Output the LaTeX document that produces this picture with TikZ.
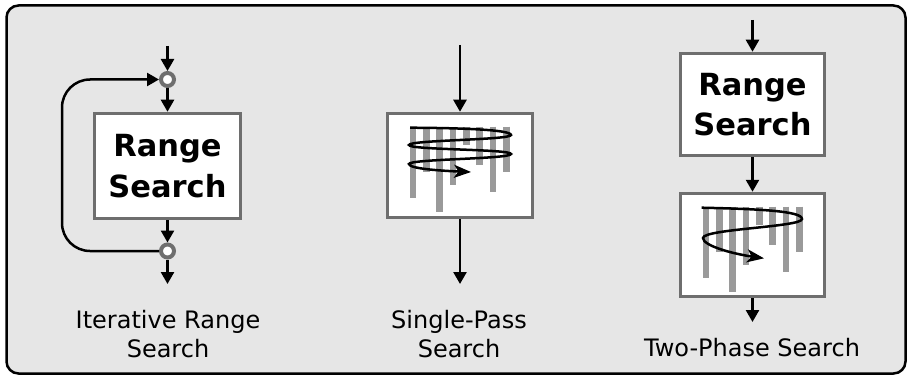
\documentclass[tikz,border=0pt]{standalone}
\usepackage{fontspec}
\setmainfont{DejaVu Sans}
\usetikzlibrary{arrows.meta}
\definecolor{bg}{HTML}{E6E6E6}
\definecolor{boxgray}{HTML}{6E6E6E}
\definecolor{bargray}{HTML}{9A9A9A}
\newcommand\mybars{\foreach \i/\l in {0/71.6,1/45,2/85,3/58.3,4/18.3,5/38.3,6/65,7/45} \draw[bar] ({27+13.33*\i},14.7) -- ++(0,\l);}
\begin{document}
\begin{tikzpicture}[x=1pt,y=-1pt,
  flow/.style={line width=2.5pt,-{Triangle[length=12pt,width=13pt]}},
  loopline/.style={line width=2.5pt,-{Triangle[length=12pt,width=13pt]},rounded corners=28pt},
  stagebox/.style={draw=boxgray,line width=3.5pt,fill=white,inner sep=0pt,align=center,font=\fontsize{30.5}{40.5}\selectfont\bfseries},
  junction/.style={circle,draw=boxgray,line width=4pt,fill=white,minimum size=13pt,inner sep=0pt},
  bar/.style={draw=bargray,line width=6.5pt},
  spiral/.style={line width=2.5pt,-{Stealth[length=17pt,width=13pt,inset=4.5pt]}},
  caption/.style={align=center,inner sep=0pt,font=\fontsize{24}{28.5}\selectfont}
]
\useasboundingbox (0,0) rectangle (909,377);
\draw[line width=2.5pt, fill=bg, rounded corners=12pt] (6.5,5.5) rectangle (905.5,373.5);

% Left: iterative range search
\node[stagebox, minimum width=146pt, minimum height=105pt] (lbox) at (167.5,166) {Range\\Search};
\node[junction] (c1) at (167.5,79.5) {};
\node[junction] (c2) at (167.5,251) {};
\coordinate (lin) at (167.5,46);
\coordinate (lout) at (167.5,284);
\draw[flow] (lin) -- (c1);
\draw[flow] (c1) -- (lbox);
\draw[flow] (lbox) -- (c2);
\draw[flow] (c2) -- (lout);
\draw[loopline] (c2.west) -- ++(-97,0) |- (c1.west);
\node[caption, anchor=north] (lcap) at (168,310.5) {Iterative Range\\Search};

% Middle: single-pass search
\node[stagebox, minimum width=145pt, minimum height=104pt] (mbox) at (460,165.5) {};
\coordinate (min) at (460,45);
\coordinate (mout) at (460,284);
\draw[flow] (min) -- (mbox);
\draw[flow] (mbox) -- (mout);
\begin{scope}[shift={(386,112)}]
  \mybars
  \draw[spiral] (24,15.7) .. controls (80,16) and (125,18) .. (125,23)
    .. controls (125,28) and (23,28) .. (23,33)
    .. controls (23,38) and (125,37) .. (125,42)
    .. controls (125,47) and (23,47) .. (23,52)
    .. controls (23,57) and (60,59) .. (85,60);
\end{scope}
\node[caption, anchor=north] (mcap) at (459,310.5) {Single-Pass\\Search};

% Right: two-phase search
\node[stagebox, minimum width=144pt, minimum height=102pt] (rbox1) at (752.5,104.5) {Range\\Search};
\node[stagebox, minimum width=144pt, minimum height=103pt] (rbox2) at (752.5,245) {};
\coordinate (rin) at (752.5,20);
\coordinate (rout) at (752.5,322);
\draw[flow] (rin) -- (rbox1);
\draw[flow] (rbox1) -- (rbox2);
\draw[flow] (rbox2) -- (rout);
\begin{scope}[shift={(679,192)}]
  \mybars
  \draw[spiral] (22.7,15.7) .. controls (80,17) and (123,19) .. (123,27)
    .. controls (123,35) and (24,37) .. (24,46)
    .. controls (24,54) and (55,62) .. (85,66.3);
\end{scope}
\node[caption, anchor=base] (rcap) at (752,356) {Two-Phase Search};
\end{tikzpicture}
\end{document}
